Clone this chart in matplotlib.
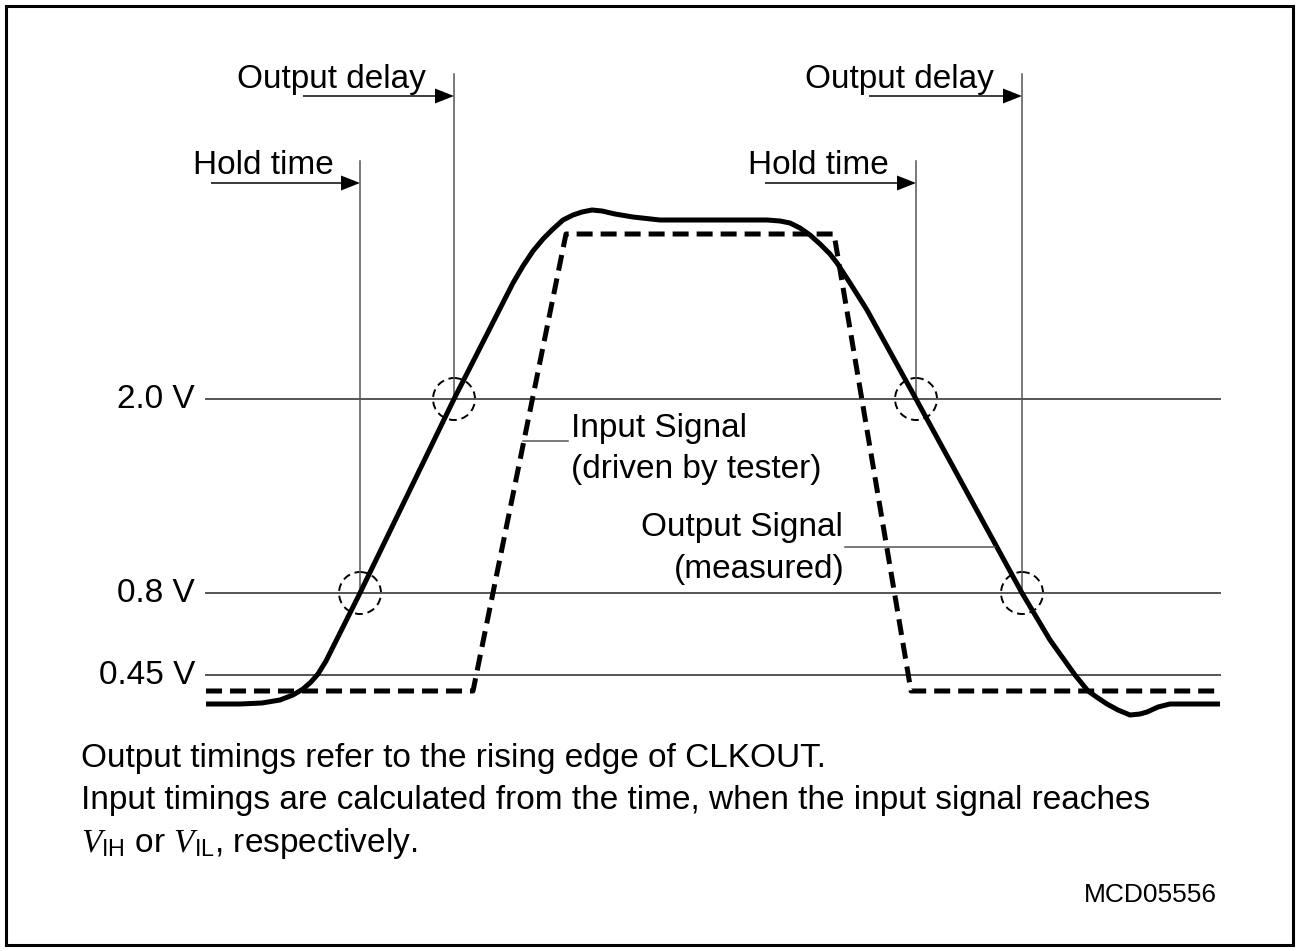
import matplotlib.pyplot as plt
from matplotlib.patches import Rectangle, Circle

plt.rcParams['font.family'] = ['Liberation Sans', 'DejaVu Sans']
plt.rcParams['mathtext.fontset'] = 'custom'
plt.rcParams['mathtext.rm'] = 'Liberation Sans'
plt.rcParams['mathtext.it'] = 'Liberation Serif:italic'

# reference levels (y in picture pixels, top = 0)
level_names = ['2.0 V', '0.8 V', '0.45 V']
level_y = [399, 593, 675]

# input signal (driven by tester)
in_x = [206, 473, 566, 834, 911, 1218]
in_y = [691, 691, 234, 234, 691, 691]

# output signal (measured)
out_x = [206, 240, 262, 280, 293, 303, 311, 318, 326, 360, 454, 513, 523, 533,
         543, 553, 563, 573, 582, 592, 602, 615, 633, 660, 700, 767, 780, 790,
         800, 810, 820, 830, 837, 850, 867, 916, 1022, 1050, 1075, 1088, 1098,
         1107, 1118, 1130, 1140, 1147, 1158, 1170, 1195, 1220]
out_y = [704, 704, 703, 700, 695, 689, 682, 674, 661, 593, 399, 283, 266, 251,
         239, 229, 220, 215, 212, 210, 211, 214, 217, 220, 220, 220, 221, 223,
         228, 235, 244, 254, 263, 283, 310, 399, 593, 640, 675, 691, 698,
         704, 710, 715, 714, 712, 707, 704, 704, 704]

# timing markers
mark_names = ['Hold time', 'Output delay', 'Hold time', 'Output delay']
mark_x = [360, 454, 916, 1022]
mark_top = [161, 74, 161, 74]
mark_level = [593, 399, 399, 593]
arrow_from = [211, 303, 765, 869]
arrow_y = [183, 96, 183, 96]
name_x = [193, 237, 748, 805]
name_y = [174, 88, 174, 88]

notes = ['Output timings refer to the rising edge of CLKOUT.',
         'Input timings are calculated from the time, when the input signal reaches',
         r'$V_{\mathrm{IH}}$ or $V_{\mathrm{IL}}$, respectively.']
note_y = [767, 809, 852]

fig = plt.figure(figsize=(12.97, 9.51), dpi=100)
ax = fig.add_axes([0, 0, 1, 1])
ax.set_xlim(0, 1297)
ax.set_ylim(951, 0)
ax.axis('off')

ax.add_patch(Rectangle((6, 6), 1287, 939, fill=False, lw=2.2, ec='black'))

thin = '#555555'
for name, y in zip(level_names, level_y):
    ax.plot([206, 1220], [y, y], color=thin, lw=1.4)
    ax.text(195, y, name, ha='right', va='center', fontsize=24)

for i in range(len(mark_x)):
    ax.plot([mark_x[i], mark_x[i]], [mark_top[i], mark_level[i]], color=thin, lw=1.1)
    ax.arrow(arrow_from[i], arrow_y[i], mark_x[i] - arrow_from[i], 0, width=1.5,
             head_width=15, head_length=19, length_includes_head=True,
             fc='black', ec='black', lw=0)
    ax.text(name_x[i], name_y[i], mark_names[i], ha='left', va='baseline', fontsize=24)
    ax.add_patch(Circle((mark_x[i], mark_level[i]), 21, fill=False, ec='black',
                        lw=1.4, ls=(0, (4, 2.5))))

ax.plot(in_x, in_y, color='black', lw=3.6, ls=(0, (3.2, 1.6)),
        dash_capstyle='butt', solid_joinstyle='miter')
ax.plot(out_x, out_y, color='black', lw=3.6, solid_capstyle='butt',
        solid_joinstyle='round')

# signal labels
ax.plot([523, 568], [441, 441], color=thin, lw=1.1)
ax.text(571, 437, 'Input Signal', ha='left', va='baseline', fontsize=24)
ax.text(571, 478, '(driven by tester)', ha='left', va='baseline', fontsize=24)
ax.plot([845, 995], [547, 547], color=thin, lw=1.1)
ax.text(843, 536, 'Output Signal', ha='right', va='baseline', fontsize=24)
ax.text(845, 578, '(measured)', ha='right', va='baseline', fontsize=24)

for s, y in zip(notes, note_y):
    ax.text(81, y, s, ha='left', va='baseline', fontsize=24)

ax.text(1217, 902, 'MCD05556', ha='right', va='baseline', fontsize=19)

fig.savefig('out.png', dpi=100)
